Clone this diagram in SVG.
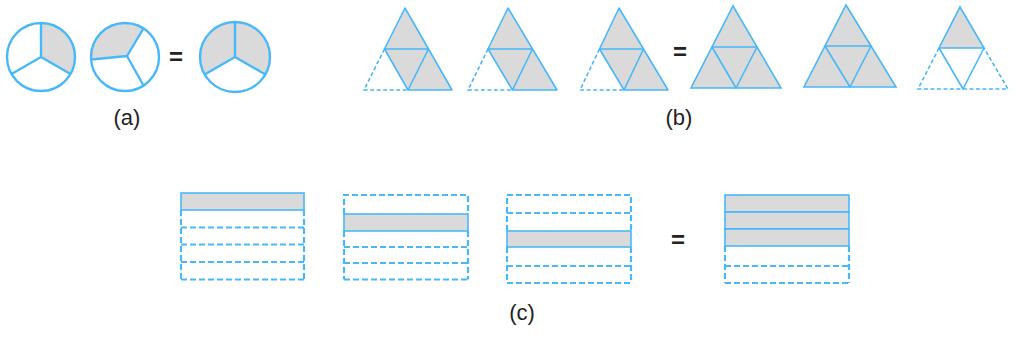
<svg xmlns="http://www.w3.org/2000/svg" width="1024" height="340" viewBox="0 0 1024 340">
<style>
.s{fill:none;stroke:#48b8f8;stroke-width:1.6;stroke-linejoin:round}
.c{fill:none;stroke:#48b8f8;stroke-width:2.4}
.d{fill:none;stroke:#48b8f8;stroke-width:1.6;stroke-dasharray:4 2.5}
.rd{fill:none;stroke:#48b8f8;stroke-width:2.2;stroke-dasharray:6 3}
.g{fill:#dadada;stroke:none}
.gs{fill:#dadada;stroke:#48b8f8;stroke-width:1.6}
.t{font-family:"Liberation Sans",Arial,sans-serif;font-size:22px;fill:#222;text-anchor:middle}
.eq{font-family:"Liberation Sans",Arial,sans-serif;font-size:24px;font-weight:bold;fill:#222;text-anchor:middle}
</style>
<rect width="1024" height="340" fill="#fff"/>
<g id="circle1">
<path class="g" d="M41,57 L41,23 A34,34 0 0 1 70.44,74 Z"/>
<circle class="c" cx="41" cy="57" r="34"/>
<path class="c" d="M41,57 L41,23 M41,57 L70.44,74 M41,57 L11.56,74"/>
</g>
<g id="circle2">
<path class="g" d="M127,56 L143.5,28.5 A34,34 0 0 0 91.5,59.5 Z"/>
<circle class="c" cx="125" cy="57" r="34"/>
<path class="c" d="M127,56 L143.5,28.5 M127,56 L91.5,59.5 M127,56 L143.5,85.5"/>
</g>
<g id="eq-a"><text class="eq" x="176" y="65">=</text></g>
<g id="circle3">
<path class="g" d="M235,57 L204.7,74.5 A35,35 0 1 1 265.3,74.5 Z"/>
<circle class="c" cx="235" cy="57" r="35"/>
<path class="c" d="M235,57 L235,22 M235,57 L265.3,74.5 M235,57 L204.7,74.5"/>
</g>
<g id="label-a"><text class="t" x="127" y="124.5">(a)</text></g>

<g id="tri1">
<polygon class="g" points="405,8 452,90 408,90 384.5,49"/>
<path class="s" d="M384.5,49 L405,8 L452,90 L408,90 L384.5,49 L428.5,49 L408,90"/>
<path class="d" d="M384.5,49 L364,90 L408,90"/>
</g>
<g id="tri2">
<polygon class="g" points="508,8 557,90 512.5,90 488,49"/>
<path class="s" d="M488,49 L508,8 L557,90 L512.5,90 L488,49 L532.5,49 L512.5,90"/>
<path class="d" d="M488,49 L468,90 L512.5,90"/>
</g>
<g id="tri3">
<polygon class="g" points="619,8 668,90 624,90 599.5,49"/>
<path class="s" d="M599.5,49 L619,8 L668,90 L624,90 L599.5,49 L643.5,49 L624,90"/>
<path class="d" d="M599.5,49 L580,90 L624,90"/>
</g>
<g id="eq-b"><text class="eq" x="680" y="60">=</text></g>
<g id="tri4">
<polygon class="gs" points="733,6 781,88 691,88"/>
<path class="s" d="M712,47 L757,47 L736,88 Z"/>
</g>
<g id="tri5">
<polygon class="gs" points="846,5 896,87 804,87"/>
<path class="s" d="M825,46 L871,46 L850,87 Z"/>
</g>
<g id="tri6">
<polygon class="gs" points="960,7 984,48 939,48"/>
<path class="s" d="M939,48 L963,89 L984,48"/>
<path class="d" d="M939,48 L918,89 L1008,89 L984,48"/>
</g>
<g id="label-b"><text class="t" x="679" y="124.5">(b)</text></g>

<g id="rect1">
<rect class="gs" x="181" y="193" width="123" height="17"/>
<path class="rd" d="M181,210 V279.5 M304,210 V279.5 M181,227.5 H304 M181,244.5 H304 M181,262 H304 M181,279.5 H304"/>
</g>
<g id="rect2">
<path class="rd" d="M344,214 V195 H468 V214 M344,231 V279.5 M468,231 V279.5 M344,247 H468 M344,263 H468 M344,279.5 H468"/>
<rect class="gs" x="344" y="214" width="124" height="17"/>
</g>
<g id="rect3">
<path class="rd" d="M507,231 V195 H631 V231 M507,213 H631 M507,247 V283 M631,247 V283 M507,266 H631 M507,283 H631"/>
<rect class="gs" x="507" y="231" width="124" height="16"/>
</g>
<g id="eq-c"><text class="eq" x="678" y="248">=</text></g>
<g id="rect4">
<rect class="gs" x="725" y="195" width="124" height="17"/>
<rect class="gs" x="725" y="212" width="124" height="17"/>
<rect class="gs" x="725" y="229" width="124" height="17"/>
<path class="rd" d="M725,246 V283 M849,246 V283 M725,266 H849 M725,283 H849"/>
</g>
<g id="label-c"><text class="t" x="522" y="320">(c)</text></g>
</svg>
